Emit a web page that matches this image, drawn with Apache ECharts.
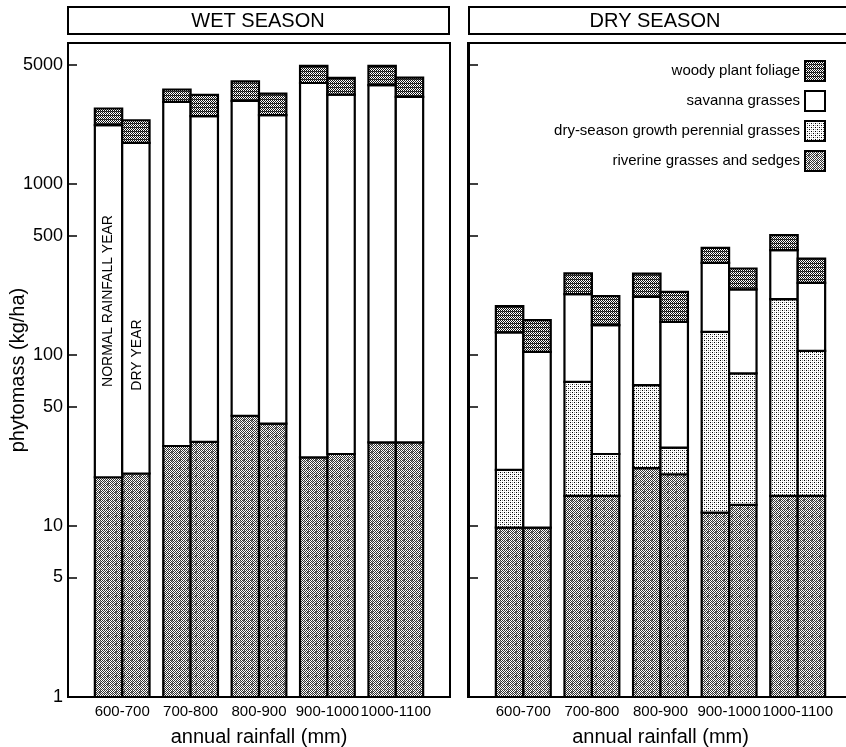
<!DOCTYPE html>
<html><head><meta charset="utf-8">
<script src="https://cdn.jsdelivr.net/npm/echarts@6/dist/echarts.min.js"></script>
<style>html,body{margin:0;padding:0;background:#fff}#chart{width:846px;height:747px}</style>
</head><body><div id="chart"></div>
<script>
const categories = ['600-700', '700-800', '800-900', '900-1000', '1000-1100'];
const layerNames = ['riverine grasses and sedges', 'dry-season growth perennial grasses', 'savanna grasses', 'woody plant foliage'];
const legendOrder = ['woody plant foliage', 'savanna grasses', 'dry-season growth perennial grasses', 'riverine grasses and sedges'];
const yTicks = [1, 5, 10, 50, 100, 500, 1000, 5000];

// WET SEASON, normal rainfall year (kg/ha per component)
const wetNormalRiverine  = [19.3, 29.4, 44.2, 25.2, 30.9];
const wetNormalPerennial = [0, 0, 0, 0, 0];
const wetNormalSavanna   = [2194, 3001, 3026, 3885, 3764];
const wetNormalWoody     = [559, 550, 930, 1010, 1125];
// WET SEASON, dry year
const wetDryRiverine  = [20.3, 31.1, 39.7, 26.4, 30.9];
const wetDryPerennial = [0, 0, 0, 0, 0];
const wetDrySavanna   = [1725, 2469, 2493, 3319, 3212];
const wetDryWoody     = [622, 830, 857, 840, 957];
// DRY SEASON, normal rainfall year
const dryNormalRiverine  = [9.8, 15.0, 21.8, 12.0, 15.0];
const dryNormalPerennial = [11.5, 54.8, 45.0, 124.9, 197.6];
const dryNormalSavanna   = [114.5, 157.6, 152.5, 209.8, 198.4];
const dryNormalWoody     = [57.7, 73.1, 80.7, 77.3, 92];
// DRY SEASON, dry year
const dryDryRiverine  = [9.8, 15.0, 20.1, 13.3, 15.0];
const dryDryPerennial = [0, 11.4, 8.7, 64.9, 90.9];
const dryDrySavanna   = [94.7, 123.3, 127.8, 164.1, 158.9];
const dryDryWoody     = [55.8, 71.6, 78, 79, 102.8];

const FONT = "'Liberation Sans', Arial, Helvetica, sans-serif";

function makePattern(kind) {
  const c = document.createElement('canvas');
  const s = 8; c.width = s; c.height = s;
  const g = c.getContext('2d');
  g.fillStyle = '#fff'; g.fillRect(0, 0, s, s);
  for (let y = 0; y < s; y++) for (let x = 0; x < s; x++) {
    let col = null;
    if (kind === 'riverine') {
      if ((x + y) % 2 === 0) col = '#333';
      else if ((x === 3 || x === 4) && (y === 3 || y === 4)) col = '#777';
      else if ((x + y) % 4 === 1 && (x % 4 === 0)) col = '#bbb';
    } else if (kind === 'woody') {
      if ((x + y) % 2 === 0) col = '#111';
      else if (x % 2 === 0 && y % 4 !== 1) col = '#444';
    } else if (kind === 'perennial') {
      if (x % 4 === 0 && y % 4 === 0) col = '#000';
      else if (x % 4 === 2 && y % 4 === 2) col = '#000';
      else if (x % 4 === 2 && y % 4 === 0) col = '#999';
      else if (x % 4 === 0 && y % 4 === 2) col = '#999';
    }
    if (col) { g.fillStyle = col; g.fillRect(x, y, 1, 1); }
  }
  return { image: c, repeat: 'repeat' };
}
const fills = [makePattern('riverine'), makePattern('perennial'), '#ffffff', makePattern('woody')];

function buildData(normalLayers, dryLayers, layerIdx) {
  const out = [];
  for (let i = 0; i < categories.length; i++) {
    [normalLayers, dryLayers].forEach((layers, yr) => {
      let top = 0;
      for (let k = 0; k <= layerIdx; k++) top += layers[k][i];
      const lo = layerIdx === 0 ? 1 : top - layers[layerIdx][i];
      if (layers[layerIdx][i] > 0) out.push([i, yr, lo, top]);
    });
  }
  return out;
}

function makeRender(layerIdx) {
  return function (params, api) {
    const cat = api.value(0), yr = api.value(1), lo = api.value(2), hi = api.value(3);
    const pLo = api.coord([cat, lo]);
    const pHi = api.coord([cat, hi]);
    const band = api.size([1, 1], [cat, 10])[0];
    const w = band * 0.4;
    const x = yr === 0 ? pLo[0] - w : pLo[0];
    return {
      type: 'rect',
      shape: { x: x, y: pHi[1], width: w, height: pLo[1] - pHi[1] },
      style: { fill: fills[layerIdx], stroke: '#000', lineWidth: 2.2 }
    };
  };
}

const wetN = [wetNormalRiverine, wetNormalPerennial, wetNormalSavanna, wetNormalWoody];
const wetD = [wetDryRiverine, wetDryPerennial, wetDrySavanna, wetDryWoody];
const dryN = [dryNormalRiverine, dryNormalPerennial, dryNormalSavanna, dryNormalWoody];
const dryD = [dryDryRiverine, dryDryPerennial, dryDrySavanna, dryDryWoody];

const series = [];
[[wetN, wetD, 0], [dryN, dryD, 1]].forEach(([n, d, gi]) => {
  for (let k = 0; k < 4; k++) {
    series.push({
      type: 'custom',
      name: layerNames[k],
      xAxisIndex: gi, yAxisIndex: gi,
      renderItem: makeRender(k),
      encode: { x: 0, y: [2, 3] },
      itemStyle: { color: fills[k], borderColor: '#000', borderWidth: 1.5 },
      data: buildData(n, d, k),
      silent: true
    });
  }
});

function yAxisCfg(gi, showLabels) {
  return {
    type: 'log', gridIndex: gi, min: 1, max: 6700, offset: 20,
    axisLine: { show: true, lineStyle: { color: '#000', width: 2 } },
    axisTick: { show: true, inside: true, length: 9, customValues: yTicks, lineStyle: { color: '#000', width: 1.5 } },
    axisLabel: { show: showLabels, customValues: yTicks, color: '#000', fontSize: 18, margin: 5, fontFamily: FONT,
                 formatter: function (v) { return String(Math.round(v)); } },
    splitLine: { show: false }, minorTick: { show: false },
    name: showLabels ? 'phytomass (kg/ha)' : '',
    nameLocation: 'middle', nameGap: 40, nameMoveOverlap: false,
    nameTextStyle: { color: '#000', fontSize: 20, fontFamily: FONT }
  };
}
function xAxisCfg(gi) {
  return {
    type: 'category', gridIndex: gi, data: categories,
    axisLine: { show: false }, axisTick: { show: false },
    axisLabel: { color: '#000', fontSize: 15, margin: 7, fontFamily: FONT, interval: 0 },
    name: 'annual rainfall (mm)', nameLocation: 'middle', nameGap: 30, nameMoveOverlap: false,
    nameTextStyle: { color: '#000', fontSize: 20, fontFamily: FONT }
  };
}

const chart = echarts.init(document.getElementById('chart'), null, { renderer: 'canvas' });
chart.setOption({
  animation: false,
  backgroundColor: '#fff',
  textStyle: { fontFamily: FONT, color: '#000' },
  grid: [
    { left: 88, right: 846 - 430, top: 43, bottom: 747 - 697, containLabel: false, outerBoundsMode: 'none' },
    { left: 489, right: 846 - 832, top: 43, bottom: 747 - 697, containLabel: false, outerBoundsMode: 'none' }
  ],
  xAxis: [xAxisCfg(0), xAxisCfg(1)],
  yAxis: [yAxisCfg(0, true), yAxisCfg(1, false)],
  legend: {
    data: legendOrder, orient: 'vertical', right: 15, top: 55,
    align: 'right', icon: 'rect', itemWidth: 20, itemHeight: 20, itemGap: 8,
    selectedMode: false,
    textStyle: { color: '#000', fontSize: 15, fontFamily: FONT }
  },
  graphic: [
    { type: 'rect', shape: { x: 68, y: 43, width: 382, height: 654 }, style: { fill: null, stroke: '#000', lineWidth: 2 }, z: 100, silent: true },
    { type: 'rect', shape: { x: 468, y: 43, width: 400, height: 654 }, style: { fill: null, stroke: '#000', lineWidth: 2 }, z: 100, silent: true },
    { type: 'rect', shape: { x: 68, y: 7, width: 381, height: 27 }, style: { fill: null, stroke: '#000', lineWidth: 2 }, silent: true },
    { type: 'rect', shape: { x: 469, y: 7, width: 400, height: 27 }, style: { fill: null, stroke: '#000', lineWidth: 2 }, silent: true },
    { type: 'text', x: 258, y: 21, style: { text: 'WET SEASON', fontSize: 20, fontFamily: FONT, fill: '#000', textAlign: 'center', textVerticalAlign: 'middle' }, silent: true },
    { type: 'text', x: 655, y: 21, style: { text: 'DRY SEASON', fontSize: 20, fontFamily: FONT, fill: '#000', textAlign: 'center', textVerticalAlign: 'middle' }, silent: true },
    { type: 'text', x: 108, y: 301, rotation: Math.PI / 2, z: 50, style: { text: 'NORMAL RAINFALL YEAR', fontSize: 14, fontFamily: FONT, fill: '#000', textAlign: 'center', textVerticalAlign: 'middle' }, silent: true },
    { type: 'text', x: 137, y: 355, rotation: Math.PI / 2, z: 50, style: { text: 'DRY YEAR', fontSize: 14, fontFamily: FONT, fill: '#000', textAlign: 'center', textVerticalAlign: 'middle' }, silent: true }
  ],
  series: series
});
</script></body></html>
